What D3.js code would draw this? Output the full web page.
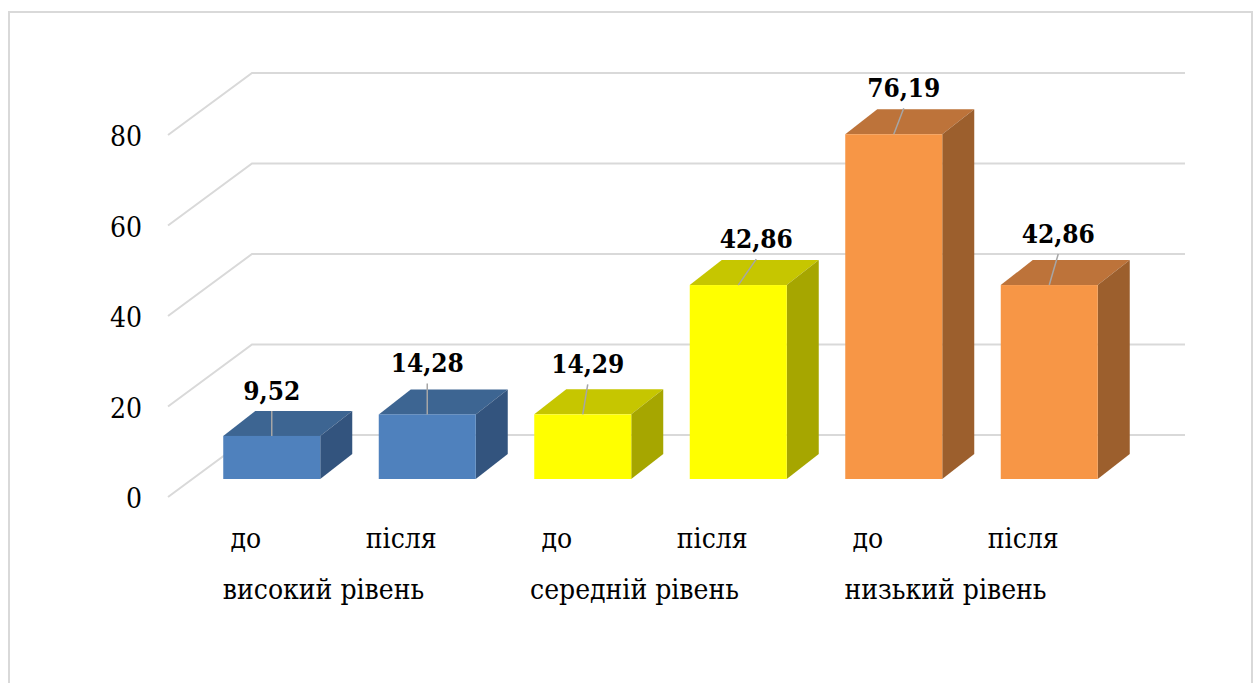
<!DOCTYPE html>
<html>
<head>
<meta charset="utf-8">
<script src="https://cdn.jsdelivr.net/npm/d3@7"></script>
<style>
  html, body { margin: 0; padding: 0; background: #ffffff; }
  svg { display: block; }
</style>
</head>
<body>
<script>
// Survey results: share of respondents per level, before (до) and after (після)
const categories = ["до", "після", "до", "після", "до", "після"];
const groups = ["високий рівень", "середній рівень", "низький рівень"];
const values = [9.52, 14.28, 14.29, 42.86, 76.19, 42.86];
const valueLabels = ["9,52", "14,28", "14,29", "42,86", "76,19", "42,86"];
const yTicks = [0, 20, 40, 60, 80];

// Face colours per group: front, top, side
const frontColors = ["#4f81bd", "#ffff00", "#f79646"];
const topColors = ["#3d6592", "#c6c600", "#bd733a"];
const sideColors = ["#33547e", "#a6a600", "#9c5f2d"];

// Manual nudges of the value labels (px), as placed in the original layout
const labelDx = [0, 0, 5, 18, 10, 9];
const labelDy = [0, -6, -5, -1, -1, -6];

const FONT = "'DejaVu Serif Condensed', 'DejaVu Serif', serif";

const W = 1256, H = 683;
const svg = d3.select("body").append("svg").attr("width", W).attr("height", H);

// Outer chart border
svg.append("rect")
  .attr("x", 9).attr("y", 12).attr("width", 1243).attr("height", 700)
  .attr("fill", "none").attr("stroke", "#d9d9d9").attr("stroke-width", 2);

// 3D geometry: front plane of the plot, wall depth, and bar offsets
const x0 = 168, plotW = 933;
const depth = { dx: 84, dy: -62 };       // wall depth (front -> back wall)
const barInset = { dx: 26, dy: -18 };    // bar front face sits this far into the box
const barDepth = { dx: 32, dy: -25 };    // bar thickness
const barW = 97;

const y = d3.scaleLinear().domain([0, 80]).range([497, 135]);
const x = d3.scaleBand().domain(d3.range(categories.length)).range([x0, x0 + plotW]);

// Gridlines: side wall diagonals and back wall horizontals
const grid = svg.append("g").attr("stroke", "#d9d9d9").attr("stroke-width", 2).attr("fill", "none");
yTicks.forEach(t => {
  const yf = y(t), yb = y(t) + depth.dy;
  grid.append("path")
    .attr("d", `M${x0},${yf}L${x0 + depth.dx},${yb}L${x0 + depth.dx + plotW},${yb}`);
});

// Y tick labels
svg.append("g").selectAll("text").data(yTicks).join("text")
  .attr("x", 142).attr("y", d => y(d) + 11)
  .attr("text-anchor", "end").attr("font-size", 28)
  .style("font-family", FONT)
  .text(d => d);

// Bars
const bars = svg.append("g");
values.forEach((v, i) => {
  const g = Math.floor(i / 2);
  const cx = x(i) + x.bandwidth() / 2 + barInset.dx;
  const xl = cx - barW / 2, xr = cx + barW / 2;
  const yb = y(0) + barInset.dy, yt = y(v) + barInset.dy;
  const dx = barDepth.dx, dy = barDepth.dy;
  bars.append("path")
    .attr("d", `M${xl},${yt}L${xl + dx},${yt + dy}L${xr + dx},${yt + dy}L${xr},${yt}Z`)
    .attr("fill", topColors[g]);
  bars.append("path")
    .attr("d", `M${xr},${yt}L${xr + dx},${yt + dy}L${xr + dx},${yb + dy}L${xr},${yb}Z`)
    .attr("fill", sideColors[g]);
  bars.append("rect")
    .attr("x", xl).attr("y", yt).attr("width", barW).attr("height", yb - yt)
    .attr("fill", frontColors[g]);

  // Value label with a leader line to the top of the bar
  const lx = cx + labelDx[i];
  const base = yt + dy - 11 + labelDy[i];
  bars.append("line")
    .attr("x1", lx).attr("y1", base + 11).attr("x2", cx).attr("y2", yt)
    .attr("stroke", "#a6a6a6").attr("stroke-width", 1.5);
  bars.append("text")
    .attr("x", lx).attr("y", base)
    .attr("text-anchor", "middle").attr("font-size", 26).attr("font-weight", "bold")
    .style("font-family", FONT)
    .text(valueLabels[i]);
});

// Category labels (до / після) and group labels
svg.append("g").selectAll("text").data(categories).join("text")
  .attr("x", (d, i) => x(i) + x.bandwidth() / 2)
  .attr("y", 548)
  .attr("text-anchor", "middle").attr("font-size", 28)
  .style("font-family", FONT)
  .text(d => d);

svg.append("g").selectAll("text").data(groups).join("text")
  .attr("x", (d, i) => (x(2 * i) + x(2 * i + 1) + x.bandwidth()) / 2)
  .attr("y", 599)
  .attr("text-anchor", "middle").attr("font-size", 28)
  .style("font-family", FONT)
  .text(d => d);
</script>
</body>
</html>
